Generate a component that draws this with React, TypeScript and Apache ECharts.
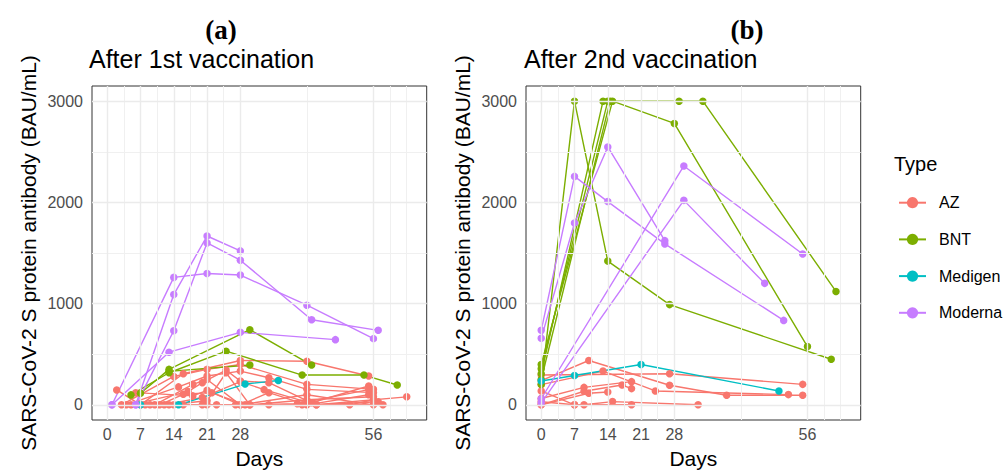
import React, { useEffect, useRef } from "react";
import * as echarts from "echarts";

type Pt = [number, number];

const TYPES = ["AZ", "BNT", "Medigen", "Moderna"];
const COLORS: Record<string, string> = {
  AZ: "#F8766D",
  BNT: "#7CAE00",
  Medigen: "#00BFC4",
  Moderna: "#C77CFF",
};

const xTickValues = [0, 7, 14, 21, 28, 56];
const yTickValues = [0, 1000, 2000, 3000];
const xMinorGrid = [3.5, 10.5, 17.5, 24.5, 42, 59.5, 63];
const yMinorGrid = [500, 1500, 2500];

// ---------- Panel (a): after 1st vaccination ----------
const dose1AZ: Pt[][] = [
  [[2, 147], [7, 0], [16, 307], [28, 438], [42, 431], [55, 285]],
  [[3, 0], [14, 280], [21, 350], [28, 398], [42, 202], [56, 153]],
  [[4, 0], [15, 177], [21, 285], [28, 333], [34, 268], [42, 153], [56, 120]],
  [[5, 0], [17, 131], [20, 219], [25, 343], [28, 235], [34, 219], [43, 20], [55, 186]],
  [[6, 120], [18, 88], [21, 143], [28, 0], [34, 120], [42, 0], [55, 100]],
  [[7, 0], [16, 0], [23, 0], [27, 0], [41, 0], [58, 0]],
  [[8, 0], [20, 0], [30, 0], [44, 0], [63, 79]],
  [[9, 0], [14, 0], [21, 0], [34, 0], [51, 0], [56, 50]],
  [[10, 0], [18, 202], [21, 250], [28, 0], [42, 100], [56, 0]],
  [[11, 0], [16, 104], [22, 120], [29, 0], [40, 10], [55, 150]],
  [[12, 0], [20, 72], [28, 230], [33, 150], [44, 0], [57, 30]],
  [[13, 0], [21, 40], [25, 317], [30, 0], [42, 50], [56, 80]],
];
const dose1BNT: Pt[][] = [
  [[5, 98], [13, 317], [25, 530], [41, 294], [54, 294], [61, 196]],
  [[7, 114], [13, 350], [30, 742], [43, 393]],
  [[13, 330], [30, 393]],
];
const dose1Medigen: Pt[][] = [
  [[7, 0], [15, 0], [29, 205], [36, 240]],
];
const dose1Moderna: Pt[][] = [
  [[1, 0], [14, 1259], [21, 1298], [28, 1282], [42, 984], [56, 654]],
  [[6, 0], [14, 1089], [21, 1668], [28, 1521]],
  [[6, 0], [14, 732], [21, 1600], [28, 1429], [43, 840], [57, 736]],
  [[1, 0], [13, 520], [28, 716], [48, 644]],
];

// ---------- Panel (b): after 2nd vaccination ----------
const dose2AZ: Pt[][] = [
  [[0, 295], [27, 307], [55, 202]],
  [[0, 240], [10, 438], [27, 193], [39, 94], [55, 94]],
  [[0, 200], [13, 333], [24, 137], [52, 101]],
  [[0, 137], [7, 0], [9, 0], [15, 32], [33, 0]],
  [[0, 62], [9, 172], [19, 229]],
  [[0, 0], [9, 134], [17, 196], [19, 160]],
  [[0, 0], [10, 114], [14, 127]],
  [[0, 30], [7, 0], [19, 0]],
];
const dose2BNT: Pt[][] = [
  [[0, 200], [7, 3000], [14, 1420], [27, 990], [61, 450]],
  [[0, 398], [15, 3000], [28, 2780], [56, 575]],
  [[0, 307], [13, 3000], [29, 3000], [34, 3000], [62, 1120]],
  [[0, 356], [14, 3000]],
  [[0, 250], [14.5, 3000]],
];
const dose2Medigen: Pt[][] = [
  [[0, 235], [7, 290], [21, 398], [50, 137]],
];
const dose2Moderna: Pt[][] = [
  [[0, 736], [7, 2257], [14, 2008], [26, 1590], [51, 834]],
  [[0, 657], [7, 1796], [14, 2548], [26, 1622]],
  [[0, 60], [30, 2360], [55, 1490]],
  [[0, 20], [30, 2020], [47, 1200]],
];

const FONT = '"Liberation Sans", Arial, sans-serif';

function subjectSeries(subjects: Pt[][], type: string, idx: number) {
  const color = COLORS[type];
  return subjects.map((d) => ({
    type: "line",
    name: type,
    xAxisIndex: idx,
    yAxisIndex: idx,
    data: d,
    symbol: "circle",
    symbolSize: 7.5,
    showSymbol: true,
    clip: false,
    lineStyle: { width: 1.4, color },
    itemStyle: { color, borderWidth: 0 },
    z: 3,
    silent: true,
    emphasis: { disabled: true },
  }));
}

function gridSeries(idx: number) {
  const major = { color: "#EBEBEB", width: 1.4, type: "solid" };
  const minor = { color: "#F0F0F0", width: 1, type: "solid" };
  return {
    type: "line",
    xAxisIndex: idx,
    yAxisIndex: idx,
    data: [],
    silent: true,
    z: 1,
    markLine: {
      silent: true,
      symbol: ["none", "none"],
      label: { show: false },
      emphasis: { disabled: true },
      data: [
        ...xMinorGrid.map((v) => ({ xAxis: v, lineStyle: minor })),
        ...yMinorGrid.map((v) => ({ yAxis: v, lineStyle: minor })),
        ...xTickValues.map((v) => ({ xAxis: v, lineStyle: major })),
        ...yTickValues.map((v) => ({ yAxis: v, lineStyle: major })),
      ],
    },
  };
}

function makeXAxis(idx: number) {
  return {
    type: "value",
    gridIndex: idx,
    min: -3.2,
    max: 67.2,
    splitLine: { show: false },
    axisLine: { show: false },
    axisTick: { show: true, length: 4, lineStyle: { color: "#333333" }, customValues: xTickValues },
    axisLabel: { customValues: xTickValues, formatter: (v: number) => String(v), color: "#4D4D4D", fontSize: 16, margin: 6, fontFamily: FONT },
    name: "Days",
    nameLocation: "middle",
    nameGap: 28,
    nameTextStyle: { fontSize: 21, color: "#000", fontFamily: FONT },
  };
}

function makeYAxis(idx: number) {
  return {
    type: "value",
    gridIndex: idx,
    min: -150,
    max: 3150,
    splitLine: { show: false },
    axisLine: { show: false },
    axisTick: { show: true, length: 4, lineStyle: { color: "#333333" }, customValues: yTickValues },
    axisLabel: { customValues: yTickValues, formatter: (v: number) => String(v), color: "#4D4D4D", fontSize: 16, margin: 9, fontFamily: FONT },
    name: "SARS-CoV-2 S protein antibody (BAU/mL)",
    nameLocation: "middle",
    nameGap: 53,
    nameRotate: 90,
    nameTextStyle: { fontSize: 21, color: "#000", fontFamily: FONT },
  };
}

export default function App() {
  const ref = useRef<HTMLDivElement>(null);
  useEffect(() => {
    if (!ref.current) return;
    const chart = echarts.init(ref.current, undefined, { renderer: "svg" });
    const gridBase = { top: 86, width: 334.7, height: 337, show: true, borderColor: "#333333", borderWidth: 1, backgroundColor: "transparent" };
    const option: any = {
      animation: false,
      backgroundColor: "#ffffff",
      textStyle: { fontFamily: FONT },
      title: [
        { text: "After 1st vaccination", left: 89, top: 46, padding: 0, textStyle: { fontSize: 25, fontWeight: "normal", color: "#000", fontFamily: FONT } },
        { text: "After 2nd vaccination", left: 524, top: 46, padding: 0, textStyle: { fontSize: 25, fontWeight: "normal", color: "#000", fontFamily: FONT } },
        { text: "Type", left: 894, top: 154, padding: 0, textStyle: { fontSize: 20, fontWeight: "normal", color: "#000", fontFamily: FONT } },
      ],
      legend: {
        data: TYPES,
        orient: "vertical",
        left: 898,
        top: 194.7,
        padding: 0,
        itemWidth: 27,
        itemHeight: 14,
        itemGap: 20.7,
        selectedMode: false,
        textStyle: { fontSize: 16, color: "#000", fontFamily: FONT, padding: [0, 0, 0, 8] },
      },
      graphic: [
        { type: "text", x: 221, y: 30, style: { text: "(a)", font: 'bold 27px "Liberation Serif", "Times New Roman", serif', align: "center", verticalAlign: "middle", fill: "#000" } },
        { type: "text", x: 747, y: 30, style: { text: "(b)", font: 'bold 27px "Liberation Serif", "Times New Roman", serif', align: "center", verticalAlign: "middle", fill: "#000" } },
      ],
      grid: [
        { ...gridBase, left: 92 },
        { ...gridBase, left: 526 },
      ],
      xAxis: [makeXAxis(0), makeXAxis(1)],
      yAxis: [makeYAxis(0), makeYAxis(1)],
      series: [
        gridSeries(0),
        gridSeries(1),
        ...subjectSeries(dose1AZ, "AZ", 0),
        ...subjectSeries(dose1BNT, "BNT", 0),
        ...subjectSeries(dose1Medigen, "Medigen", 0),
        ...subjectSeries(dose1Moderna, "Moderna", 0),
        ...subjectSeries(dose2AZ, "AZ", 1),
        ...subjectSeries(dose2BNT, "BNT", 1),
        ...subjectSeries(dose2Medigen, "Medigen", 1),
        ...subjectSeries(dose2Moderna, "Moderna", 1),
      ],
    };
    chart.setOption(option);
    return () => chart.dispose();
  }, []);
  return <div ref={ref} style={{ position: "absolute", left: 0, top: 0, width: 1008, height: 474 }} />;
}
